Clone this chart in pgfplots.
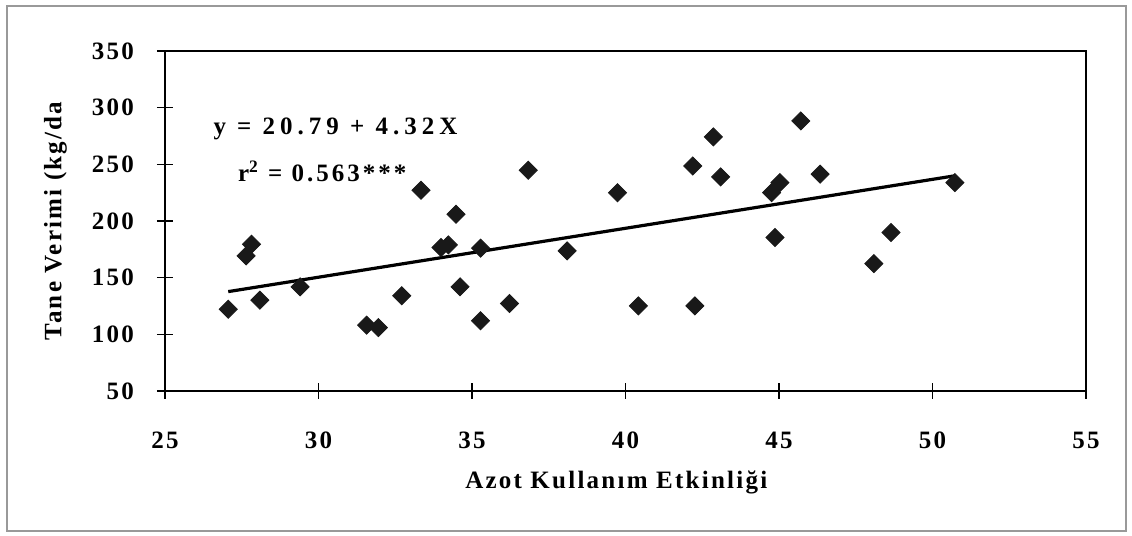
\documentclass[border=0pt]{standalone}
\usepackage{fontspec}
\setmainfont{Liberation Serif}[LetterSpace=9]
\newfontfamily\eqfont{Liberation Serif}[LetterSpace=20]
\newfontfamily\rfont{Liberation Serif}[LetterSpace=12]
\usepackage{pgfplots}
\pgfplotsset{compat=1.18}
\newcommand{\lblfont}{\fontsize{12.5}{15}\selectfont\bfseries}
\begin{document}
\begin{tikzpicture}[font=\lblfont]
\useasboundingbox (-82.5pt,-72.5pt) rectangle (483.5pt,195.5pt);
\fill[white] (-82.5pt,-72.5pt) rectangle (483.5pt,195.5pt);
\draw[black!40, line width=0.8pt] (-79pt,-70pt) rectangle (480.5pt,192.5pt);
\begin{axis}[
  at={(0,0)}, anchor=south west,
  scale only axis,
  width=460.5pt, height=170pt,
  xmin=25, xmax=55, ymin=50, ymax=350,
  xtick={25,30,...,55}, ytick={50,100,...,350},
  tick pos=left,
  tick align=center,
  major tick length=8pt,
  axis line style={line width=1.2pt},
  every tick/.style={black, line width=0.6pt},
  /pgf/number format/assume math mode=true,
  ticklabel style={font=\lblfont},
  label style={font=\lblfont},
  xticklabel style={yshift=-13pt},
  yticklabel style={xshift=-8pt},
  xlabel={Azot Kullanım Etkinliği},
  ylabel={Tane Verimi (kg/da},
  xlabel style={at={(axis description cs:0.49,-0.268)}, anchor=center},
  ylabel style={at={(axis description cs:-0.119,0.5)}, anchor=center},
  clip=false,
]
\addplot[only marks, mark=square*, mark size=3.2pt, mark options={rotate=45, fill=black!90, draw=black!90}] coordinates {
(27.06,122.2) (27.64,169.2) (27.82,179.5) (28.09,130.1) (29.40,141.9)
(31.57,108.1) (31.95,106.0) (32.71,134.0) (33.34,227.2) (33.99,176.6)
(34.23,178.9) (34.48,206.0) (34.61,141.9) (35.28,176.0) (35.28,112.0)
(36.22,127.2) (36.83,244.8) (38.10,173.6) (39.74,225.0) (40.42,125.1)
(42.19,248.6) (42.26,125.1) (42.86,274.2) (43.10,238.9) (44.76,225.0)
(45.03,233.9) (44.87,185.4) (45.71,288.3) (46.34,241.3) (48.65,189.8)
(48.09,162.4) (50.73,233.9)
};
\addplot[black, line width=1.6pt] coordinates {(27.06,137.7) (50.73,239.9)};
\node[anchor=west, font=\eqfont\lblfont] at (axis cs:26.35,281) {y = 20.79 + 4.32X};
\node[anchor=west, font=\rfont\lblfont] at (axis cs:27.15,244) {r$^{\mathbf{2}}$ = 0.563***};
\end{axis}
\end{tikzpicture}
\end{document}
